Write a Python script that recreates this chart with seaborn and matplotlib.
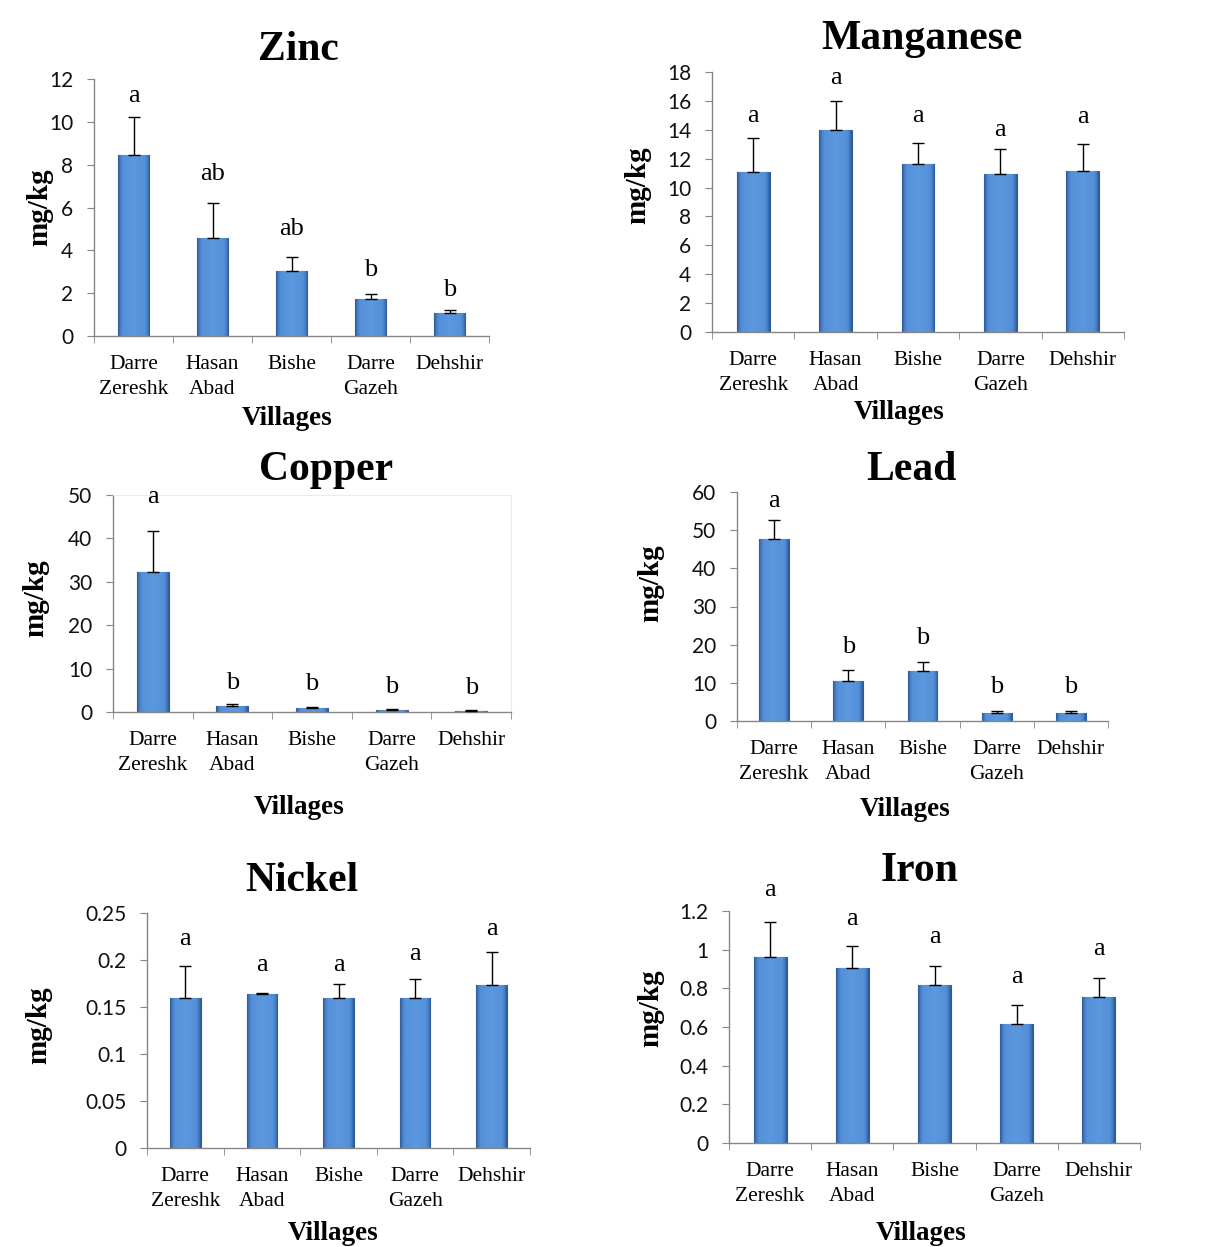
import numpy as np
import pandas as pd
import seaborn as sns
import matplotlib.pyplot as plt
from matplotlib.colors import LinearSegmentedColormap

villages = ['Darre\nZereshk', 'Hasan\nAbad', 'Bishe', 'Darre\nGazeh', 'Dehshir']

# values (mean, upper error, letter baseline)
zinc_mean = [8.43, 4.58, 3.02, 1.72, 1.06]
zinc_err = [1.80, 1.62, 0.66, 0.24, 0.14]
zinc_letters = ['a', 'ab', 'ab', 'b', 'b']
zinc_letter_y = [10.93, 7.27, 4.70, 2.79, 1.85]

mn_mean = [11.08, 14.0, 11.6, 10.95, 11.15]
mn_err = [2.36, 1.98, 1.5, 1.7, 1.87]
mn_letters = ['a', 'a', 'a', 'a', 'a']
mn_letter_y = [14.55, 17.2, 14.55, 13.6, 14.5]

cu_mean = [32.3, 1.3, 0.9, 0.5, 0.3]
cu_err = [9.4, 0.6, 0.3, 0.25, 0.15]
cu_letters = ['a', 'b', 'b', 'b', 'b']
cu_letter_y = [48.1, 5.4, 5.15, 4.46, 4.2]

pb_mean = [47.7, 10.5, 13.1, 2.2, 2.2]
pb_err = [5.05, 2.95, 2.3, 0.4, 0.4]
pb_letters = ['a', 'b', 'b', 'b', 'b']
pb_letter_y = [56.2, 17.9, 20.3, 7.4, 7.4]

ni_mean = [0.160, 0.164, 0.160, 0.160, 0.173]
ni_err = [0.034, 0.001, 0.0145, 0.020, 0.035]
ni_letters = ['a', 'a', 'a', 'a', 'a']
ni_letter_y = [0.2156, 0.1883, 0.1883, 0.1996, 0.2270]

fe_mean = [0.962, 0.907, 0.815, 0.613, 0.756]
fe_err = [0.183, 0.110, 0.100, 0.099, 0.099]
fe_letters = ['a', 'a', 'a', 'a', 'a']
fe_letter_y = [1.275, 1.128, 1.033, 0.829, 0.972]

W, H = 1206, 1247

panels = [
    dict(title='Zinc', mean=zinc_mean, err=zinc_err, letters=zinc_letters, ly=zinc_letter_y,
         box=(94, 79, 489, 336), ymax=12, yticks=np.arange(0, 13, 2),
         tpos=(298, 50), ypos=(40, 207), xpos=(287, 419), frame=False),
    dict(title='Manganese', mean=mn_mean, err=mn_err, letters=mn_letters, ly=mn_letter_y,
         box=(712, 72, 1124, 332), ymax=18, yticks=np.arange(0, 19, 2),
         tpos=(922, 39), ypos=(638, 185), xpos=(899, 412), frame=False),
    dict(title='Copper', mean=cu_mean, err=cu_err, letters=cu_letters, ly=cu_letter_y,
         box=(113, 495, 511, 712), ymax=50, yticks=np.arange(0, 51, 10),
         tpos=(326, 470), ypos=(36, 598), xpos=(299, 808), frame=True),
    dict(title='Lead', mean=pb_mean, err=pb_err, letters=pb_letters, ly=pb_letter_y,
         box=(737, 492, 1108, 721), ymax=60, yticks=np.arange(0, 61, 10),
         tpos=(911, 470), ypos=(651, 583), xpos=(905, 810), frame=False),
    dict(title='Nickel', mean=ni_mean, err=ni_err, letters=ni_letters, ly=ni_letter_y,
         box=(147, 913, 530, 1148), ymax=0.25, yticks=np.arange(0, 0.26, 0.05),
         tpos=(302, 881), ypos=(39, 1025), xpos=(333, 1234), frame=False),
    dict(title='Iron', mean=fe_mean, err=fe_err, letters=fe_letters, ly=fe_letter_y,
         box=(729, 911, 1140, 1143), ymax=1.2, yticks=np.arange(0, 1.21, 0.2),
         tpos=(920, 871), ypos=(651, 1008), xpos=(921, 1234), frame=False),
]

sns.set_style('white')

serif = 'Liberation Serif'
sans = 'Lato'
axis_grey = '#868686'

bar_cmap = LinearSegmentedColormap.from_list(
    'bar', [(0.0, '#5b98de'), (0.7, '#5590d8'), (0.88, '#4579c0'), (1.0, '#2c5894')])
grad = np.abs(np.linspace(-1, 1, 64))[None, :]

fig = plt.figure(figsize=(W / 100, H / 100), dpi=100)


def box(l, t, r, b):
    return [l / W, 1 - b / H, (r - l) / W, (b - t) / H]


def fx(x):
    return x / W


def fy(y):
    return 1 - y / H


for p in panels:
    ax = fig.add_axes(box(*p['box']))
    df = pd.DataFrame({'Village': villages, 'value': p['mean']})
    sns.barplot(data=df, x='Village', y='value', ax=ax, width=0.4, color='#5590d8',
                edgecolor='#2f5c98', linewidth=0.8, errorbar=None, zorder=2)

    # shaded look of the bars
    for patch in list(ax.patches):
        x0, y0 = patch.get_x(), patch.get_y()
        w, h = patch.get_width(), patch.get_height()
        im = ax.imshow(grad, extent=[x0, x0 + w, y0, y0 + h], cmap=bar_cmap,
                       aspect='auto', zorder=2.1, interpolation='bicubic')
        im.set_clip_path(patch)

    ax.errorbar(range(5), p['mean'], yerr=[np.zeros(5), p['err']], fmt='none',
                ecolor='black', elinewidth=1, capsize=4, capthick=1, zorder=3)

    for i, (lab, y) in enumerate(zip(p['letters'], p['ly'])):
        ax.text(i, y, lab, ha='center', va='baseline', fontsize=19, color='black',
                fontfamily=serif, clip_on=False)

    ax.set_xlim(-0.5, 4.5)
    ax.set_ylim(0, p['ymax'])
    ax.set_yticks(p['yticks'])
    ax.set_yticklabels(['{:g}'.format(round(v, 2)) for v in p['yticks']],
                       fontfamily=sans, fontsize=15, color='#111111')
    ax.set_xticks(range(5))
    ax.set_xticklabels(villages, fontfamily=serif, fontsize=15.5, linespacing=1.4,
                       color='black')
    ax.set_xticks(np.arange(-0.5, 5, 1), minor=True)
    ax.tick_params(axis='y', direction='out', length=5, color=axis_grey, pad=10, left=True)
    ax.tick_params(axis='x', which='major', length=0, pad=14)
    ax.tick_params(axis='x', which='minor', direction='out', length=5, color=axis_grey, bottom=True)
    ax.set_xlabel('')
    ax.set_ylabel('')

    for s in ['left', 'bottom']:
        ax.spines[s].set_color(axis_grey)
        ax.spines[s].set_linewidth(1)
    for s in ['top', 'right']:
        if p['frame']:
            ax.spines[s].set_color('#ececec')
            ax.spines[s].set_linewidth(0.8)
        else:
            ax.spines[s].set_visible(False)

    fig.text(fx(p['tpos'][0]), fy(p['tpos'][1]), p['title'], ha='center', va='center',
             fontsize=30, fontweight='bold', fontfamily=serif, color='black')
    fig.text(fx(p['ypos'][0]), fy(p['ypos'][1]), 'mg/kg', ha='center', va='center',
             rotation=90, fontsize=21, fontweight='bold', fontfamily=serif, color='black')
    fig.text(fx(p['xpos'][0]), fy(p['xpos'][1]), 'Villages', ha='center', va='center',
             fontsize=19.5, fontweight='bold', fontfamily=serif, color='black')

fig.savefig('out.png', dpi=100, facecolor='white')
